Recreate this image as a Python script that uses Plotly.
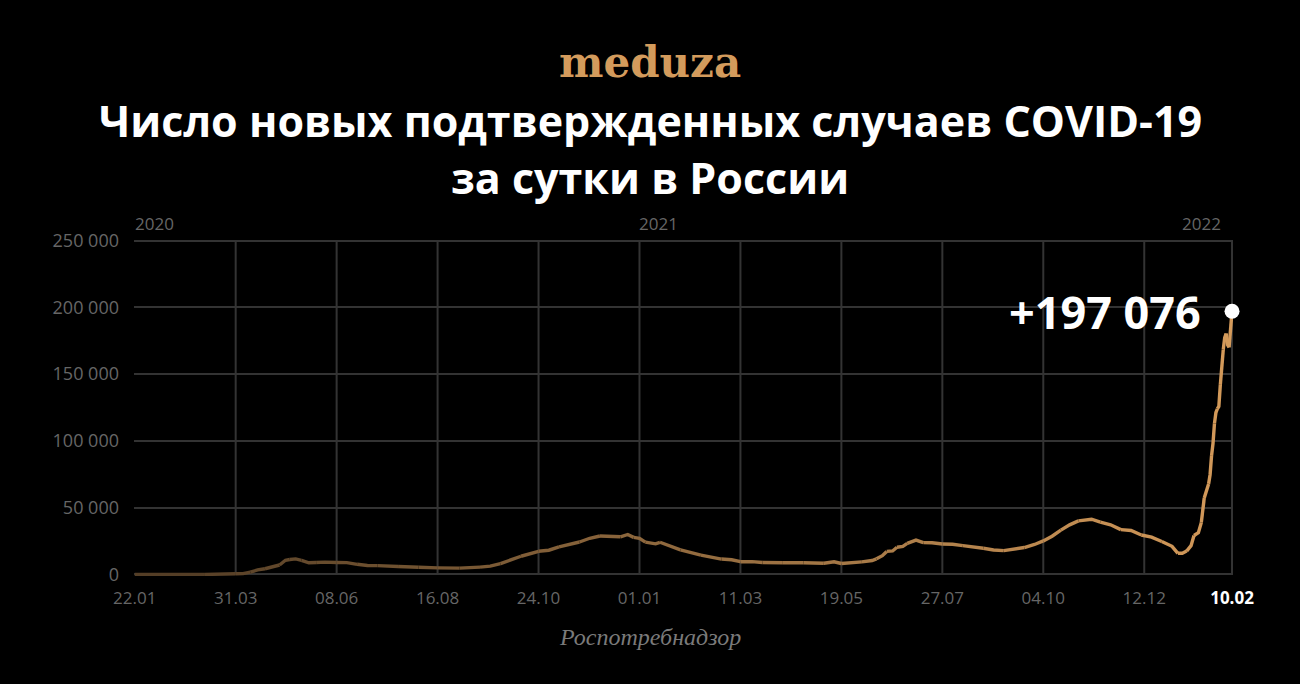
import plotly.graph_objects as go
import pandas as pd

# ---------------- data ----------------
dates = [
    "2020-01-22", "2020-02-29", "2020-03-10", "2020-03-20", "2020-03-31", "2020-04-05",
    "2020-04-10", "2020-04-15", "2020-04-20", "2020-04-25", "2020-04-30", "2020-05-04",
    "2020-05-07", "2020-05-11", "2020-05-15", "2020-05-20", "2020-05-25", "2020-05-31",
    "2020-06-08", "2020-06-15", "2020-06-22", "2020-06-29", "2020-07-06", "2020-07-13",
    "2020-07-20", "2020-07-27", "2020-08-03", "2020-08-10", "2020-08-16", "2020-08-24",
    "2020-08-31", "2020-09-07", "2020-09-14", "2020-09-21", "2020-09-28", "2020-10-05",
    "2020-10-12", "2020-10-19", "2020-10-24", "2020-10-31", "2020-11-07", "2020-11-14",
    "2020-11-21", "2020-11-28", "2020-12-05", "2020-12-12", "2020-12-19", "2020-12-24",
    "2020-12-28", "2021-01-01", "2021-01-05", "2021-01-12", "2021-01-15", "2021-01-22",
    "2021-01-29", "2021-02-05", "2021-02-12", "2021-02-19", "2021-02-26", "2021-03-05",
    "2021-03-11", "2021-03-19", "2021-03-26", "2021-04-02", "2021-04-09", "2021-04-16",
    "2021-04-23", "2021-04-30", "2021-05-07", "2021-05-14", "2021-05-19", "2021-05-26",
    "2021-06-02", "2021-06-09", "2021-06-12", "2021-06-16", "2021-06-19", "2021-06-23",
    "2021-06-26", "2021-06-30", "2021-07-03", "2021-07-09", "2021-07-14", "2021-07-20",
    "2021-07-27", "2021-08-03", "2021-08-10", "2021-08-17", "2021-08-24", "2021-08-31",
    "2021-09-07", "2021-09-14", "2021-09-21", "2021-09-28", "2021-10-04", "2021-10-10",
    "2021-10-16", "2021-10-22", "2021-10-28", "2021-11-06", "2021-11-12", "2021-11-19",
    "2021-11-26", "2021-12-03", "2021-12-10", "2021-12-17", "2021-12-24", "2021-12-31",
    "2022-01-04", "2022-01-07", "2022-01-10", "2022-01-13", "2022-01-15", "2022-01-18",
    "2022-01-20", "2022-01-21", "2022-01-22", "2022-01-24", "2022-01-25", "2022-01-26",
    "2022-01-27", "2022-01-28", "2022-01-29", "2022-01-30", "2022-01-31", "2022-02-01",
    "2022-02-02", "2022-02-03", "2022-02-04", "2022-02-05", "2022-02-06", "2022-02-07",
    "2022-02-08", "2022-02-09", "2022-02-10",
]
cases = [
    0, 0, 3, 53, 500, 658,
    1786, 3388, 4268, 5966, 7099, 10633,
    11231, 11656, 10598, 8764, 8946, 9268,
    8985, 8835, 7600, 6693, 6611, 6537,
    5940, 5635, 5427, 5118, 4969, 4852,
    4729, 5185, 5509, 6196, 8135, 10888,
    13634, 15982, 17340, 18140, 20582, 22572,
    24318, 27100, 28782, 28585, 28209, 29935,
    27787, 27029, 24246, 22934, 24092, 21152,
    18359, 16643, 14494, 12953, 11534, 11022,
    9557, 9632, 8910, 8885, 8805, 8534,
    8803, 8731, 8407, 9462, 8217, 8946,
    9445, 10407, 11699, 14057, 17262, 17594,
    20393, 21042, 23218, 25766, 23811, 23770,
    22804, 22589, 21571, 20914, 19630, 18325,
    17856, 18841, 20174, 22430, 25110, 28647,
    33208, 37141, 40096, 41335, 39160, 37156,
    33558, 32930, 29558, 27967, 24703, 21073,
    15830, 15904, 17525, 21581, 29150, 31252,
    38820, 49513, 57212, 65109, 67809, 74692,
    88816, 98040, 113122, 121228, 124070, 125836,
    141883, 155768, 168201, 177282, 180456, 171905,
    170000, 183103, 197076,
]

x_tick_dates = ["2020-01-22", "2020-03-31", "2020-06-08", "2020-08-16", "2020-10-24",
                "2021-01-01", "2021-03-11", "2021-05-19", "2021-07-27", "2021-10-04",
                "2021-12-12", "2022-02-10"]
x_tick_labels = ["22.01", "31.03", "08.06", "16.08", "24.10", "01.01", "11.03",
                 "19.05", "27.07", "04.10", "12.12", "10.02"]
y_tick_vals = [0, 50000, 100000, 150000, 200000, 250000]
y_tick_labels = ["0", "50 000", "100 000", "150 000", "200 000", "250 000"]
year_labels = ["2020", "2021", "2022"]
year_dates = ["2020-01-22", "2021-01-01", "2022-02-10"]

title_lines = ["Число новых подтвержденных случаев COVID-19", "за сутки в России"]
source_text = "Роспотребнадзор"
last_label = "+197 076"

# ---------------- layout geometry ----------------
W, H = 1300, 684
L, R, T, B = 134, 67, 239, 108
pw, ph = W - L - R, H - T - B


def py2y(py):
    return (H - B - py) / ph


def px2x(px):
    return (px - L) / pw


CX = px2x(650)
GRID = "#333333"
TICK = "#666666"
FONT = "'Open Sans', Lato, sans-serif"

d = pd.to_datetime(dates)
t0, t1 = d[0], d[-1]
c0 = (80, 59, 36)
c1 = (212, 154, 90)

fig = go.Figure()

# gradient line built from overlapping segments
n = len(dates)
step = 2
i = 0
while i < n - 1:
    j = min(i + step, n - 1)
    mid = d[i] + (d[j] - d[i]) / 2
    f = (mid - t0) / (t1 - t0)
    col = tuple(int(round(a + (b - a) * f)) for a, b in zip(c0, c1))
    fig.add_trace(go.Scatter(
        x=dates[i:j + 1], y=cases[i:j + 1], mode="lines",
        line=dict(color="rgb(%d,%d,%d)" % col, width=3.4),
        hoverinfo="skip", showlegend=False))
    i = j

# end point
fig.add_trace(go.Scatter(
    x=[dates[-1]], y=[cases[-1]], mode="markers",
    marker=dict(color="white", size=15), cliponaxis=False,
    showlegend=False, hoverinfo="skip"))

# vertical grid lines (not at the first tick)
shapes = []
for td in x_tick_dates[1:]:
    shapes.append(dict(type="line", xref="x", yref="y", x0=td, x1=td,
                       y0=0, y1=250000, line=dict(color=GRID, width=2), layer="below"))

ticktext = x_tick_labels[:-1] + ["<span style='color:white'><b>%s</b></span>" % x_tick_labels[-1]]

annotations = [
    dict(text="<b>meduza</b>", x=CX, xref="paper", y=py2y(62), yref="paper",
         showarrow=False, xanchor="center", yanchor="middle",
         font=dict(family="DejaVu Serif", size=42, color="#d39b5c")),
    dict(text="<b>%s</b>" % title_lines[0], x=CX, xref="paper", y=py2y(121), yref="paper",
         showarrow=False, xanchor="center", yanchor="middle",
         font=dict(family=FONT, size=43, color="white")),
    dict(text="<b>%s</b>" % title_lines[1], x=CX, xref="paper", y=py2y(177), yref="paper",
         showarrow=False, xanchor="center", yanchor="middle",
         font=dict(family=FONT, size=43, color="white")),
    dict(text="<i>%s</i>" % source_text, x=CX, xref="paper", y=py2y(637), yref="paper",
         showarrow=False, xanchor="center", yanchor="middle",
         font=dict(family="Liberation Serif", size=24, color="#7a7a7a")),
    dict(text="<b>%s</b>" % last_label, x=dates[-1], xref="x", y=cases[-1], yref="y",
         showarrow=False, xanchor="right", yanchor="middle", xshift=-29,
         font=dict(family=FONT, size=45, color="white")),
]
for k, (yl, yd) in enumerate(zip(year_labels, year_dates)):
    annotations.append(dict(
        text=yl, x=yd, xref="x", y=py2y(224), yref="paper", showarrow=False,
        xanchor="right" if k == 2 else "left", xshift=-9 if k == 2 else -2,
        yanchor="middle", font=dict(family=FONT, size=17, color=TICK)))

fig.update_layout(
    width=W, height=H,
    margin=dict(l=L, r=R, t=T, b=B),
    paper_bgcolor="black", plot_bgcolor="black",
    showlegend=False,
    shapes=shapes, annotations=annotations,
    xaxis=dict(type="date", range=["2020-01-21 12:00", "2022-02-10 16:00"],
               tickvals=x_tick_dates, ticktext=ticktext, showgrid=False,
               zeroline=False, showline=False, ticks="", ticklabelstandoff=10,
               tickfont=dict(family=FONT, size=17, color=TICK)),
    yaxis=dict(range=[-1150, 251150], tickvals=y_tick_vals, ticktext=y_tick_labels,
               showgrid=True, gridcolor=GRID, gridwidth=2, zeroline=False,
               showline=False, ticks="", ticklabelstandoff=14,
               tickfont=dict(family=FONT, size=18, color=TICK)),
)

fig.write_html("out.html", config={"displayModeBar": False},
               post_script="document.body.style.margin='0';document.body.style.background='black';")
